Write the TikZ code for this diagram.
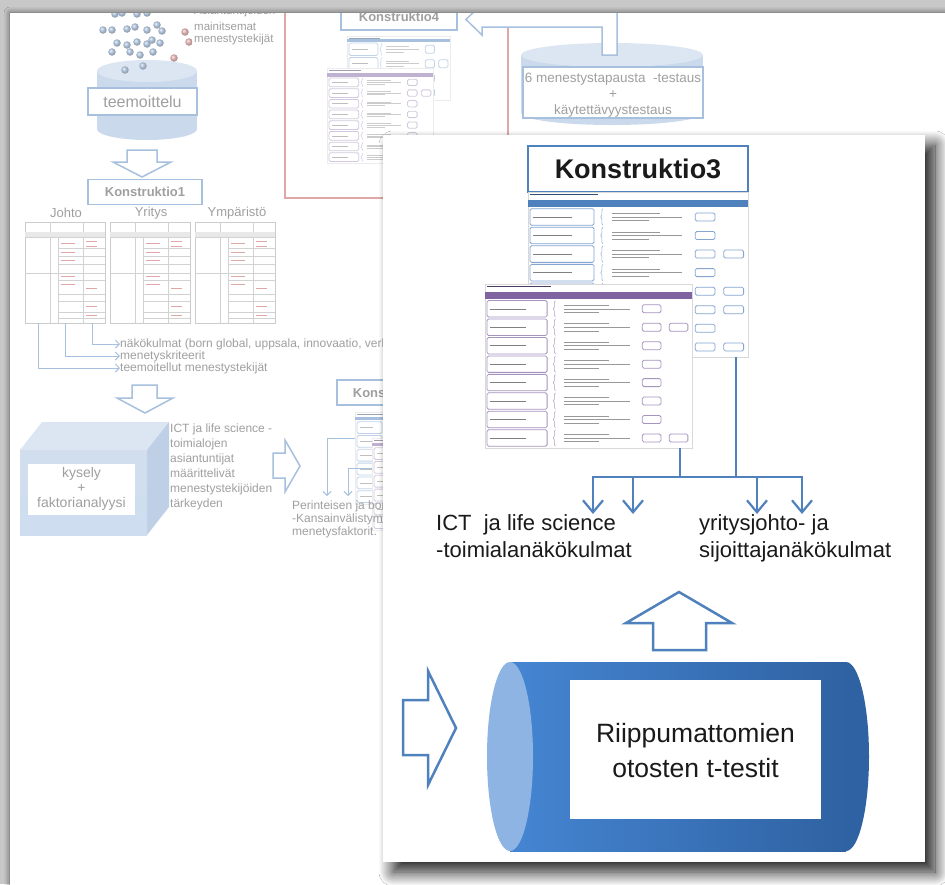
\documentclass[tikz,border=0pt]{standalone}
\usepackage{fontspec}
\setmainfont{Liberation Sans}
\usetikzlibrary{arrows.meta,shadows.blur,decorations.pathreplacing}

\definecolor{framegray}{HTML}{C8C8C8}
\definecolor{bblue}{HTML}{4F81BD}
\definecolor{cylbody}{HTML}{95B3D7}
\definecolor{cyltop}{HTML}{B9CDE5}
\definecolor{cubeside}{HTML}{7FA2CE}
\definecolor{purp}{HTML}{8064A2}
\definecolor{redline}{HTML}{C0504D}
\definecolor{inkgray}{HTML}{404040}
\definecolor{cylmid}{HTML}{4585D2}
\definecolor{cyldark}{HTML}{2F62A2}
\definecolor{cylcap}{HTML}{8DB4E3}
\definecolor{ink}{HTML}{1A1A1A}

% criteria sheet: #1 name, #2,#3 top-left corner, #4 width, #5 height,
% #6 colour, #7 number of rows, #8 rows that carry a second value box
\newcommand{\critsheet}[8]{%
  \node[sheet, anchor=north west, minimum width=#4pt, minimum height=#5pt] (#1) at (#2,#3) {};
  \begin{scope}[shift={(#2,#3)}]
    \draw[#6!60!black, line width=0.7pt] (2,2.5) -- ({0.32*#4},2.5);
    \fill[#6] (0,{0.05*#5}) rectangle (#4,{0.09*#5});
    \pgfmathsetmacro\rowh{0.9*#5/#7}
    \pgfmathsetmacro\bh{min(4,0.3*\rowh)}
    \foreach \r in {1,...,#7} {
      \pgfmathsetmacro\ya{0.095*#5+(\r-1)*\rowh+1}
      \pgfmathsetmacro\yb{\ya+\rowh-2}
      \pgfmathsetmacro\ym{(\ya+\yb)/2}
      \draw[#6!70, line width=0.8pt, rounded corners=1.5pt] (2,\ya) rectangle ({0.3*#4},\yb);
      \draw[gray, line width=0.5pt] (5,\ym) -- ({0.2*#4},\ym);
      \draw[#6!60, line width=0.6pt, decorate, decoration={brace, amplitude=2pt}]
        ({0.34*#4},\yb) -- ({0.34*#4},\ya);
      \draw[gray!80, line width=0.5pt]
        ({0.38*#4},{\ya+0.25*\rowh}) -- ({0.6*#4},{\ya+0.25*\rowh})
        ({0.38*#4},\ym) -- ({0.7*#4},\ym)
        ({0.38*#4},{\yb-0.25*\rowh}) -- ({0.55*#4},{\yb-0.25*\rowh});
      \draw[#6!70, line width=0.8pt, rounded corners=1.5pt]
        ({0.76*#4},\ym-\bh) rectangle ({0.85*#4},\ym+\bh);
    }
    \foreach \r in {#8} {
      \pgfmathsetmacro\ym{0.095*#5+(\r-0.5)*\rowh}
      \draw[#6!70, line width=0.8pt, rounded corners=1.5pt]
        ({0.89*#4},\ym-\bh) rectangle ({0.98*#4},\ym+\bh);
    }
  \end{scope}
}

\begin{document}
\begin{tikzpicture}[x=1pt, y=-1pt,
  smalltxt/.style={font=\fontsize{12}{15}\selectfont, text=inkgray, inner sep=0pt},
  boxtitle/.style={draw=bblue, line width=1.2pt, fill=white,
    font=\bfseries\fontsize{13}{15}\selectfont, text=inkgray, inner sep=0pt},
  blockarrow/.style={draw=bblue, line width=1.5pt, fill=white, line join=miter},
  thinarrow/.style={draw=bblue, line width=1pt, -{Straight Barb[length=4pt,width=8pt]}},
  sheet/.style={fill=white, draw=gray!30, line width=0.3pt, inner sep=0pt},
  treeline/.style={draw=bblue, line width=2.2pt},
  treearrow/.style={treeline, -{Straight Barb[length=12pt,width=20pt,line width=2.2pt]}},
  bigtxt/.style={font=\fontsize{22}{27}\selectfont, text=ink, inner sep=0pt, align=left},
  pearl/.style={circle, inner sep=0pt, minimum size=7.5pt, ball color=#1},
  gridline/.style={draw=gray!70, line width=0.6pt},
]
\useasboundingbox (0,0) rectangle (945,884);

% ---------- frame and back page ----------
\fill[framegray] (0,0) rectangle (945,884);
\fill[white, blur shadow={shadow xshift=0pt, shadow yshift=0pt, shadow blur radius=6pt, shadow opacity=60}]
  (10,13) rectangle (965,905);

\begin{scope}
\clip (10,13) rectangle (945,884);

% red frame lines
\draw[redline, line width=1.2pt] (285,0) -- (285,198) -- (383,198);
\draw[redline, line width=1.2pt] (508,0) -- (508,135);

% scattered success factors
\foreach \p [count=\i] in {(115,14),(122,13),(137,14),(147,13),
    (103,30),(112,30),(127,29),(135,27),(147,30),(157,25),(162,31),
    (117,43),(127,45),(137,42),(147,44),(152,40),(160,43),
    (112,52),(130,52),(140,55),(153,52)}
  \node[pearl=bblue] (dot\i) at \p {};
\node[pearl=redline] (rdot1) at (185,32) {};
\node[pearl=redline] (rdot2) at (189,42) {};
\node[smalltxt, anchor=west, font=\fontsize{11.5}{14}\selectfont] (asi) at (194,12) {Asiantuntijoiden};
\node[smalltxt, anchor=west, font=\fontsize{11.5}{14}\selectfont] (mai) at (194,26) {mainitsemat};
\node[smalltxt, anchor=west, font=\fontsize{11.5}{14}\selectfont] (men) at (194,40) {menestystekijät};

% theming cylinder
\fill[cylbody] (147,129) ellipse[x radius=50, y radius=11];
\fill[cylbody] (97,71) rectangle (197,129);
\fill[cyltop] (147,71) ellipse[x radius=50, y radius=11];
\node[pearl=bblue] (dot22) at (125,70) {};
\node[pearl=bblue] (dot23) at (143,66) {};
\node[pearl=redline] (rdot3) at (174,58) {};
\node[draw=bblue, line width=1.2pt, fill=white, minimum width=109pt, minimum height=27pt,
  inner sep=0pt, font=\fontsize{16}{18}\selectfont, text=inkgray] (teem) at (142.5,101.5) {teemoittelu};

% arrow to construct 1
\draw[blockarrow] (127,150) -- (157,150) -- (157,162) -- (171,162) -- (142,177)
  -- (113,162) -- (127,162) -- cycle;
\node[boxtitle, minimum width=114pt, minimum height=25pt] (k1) at (145,192) {Konstruktio1};

\node[smalltxt, font=\fontsize{13}{15}\selectfont] (johto) at (66,213) {Johto};
\node[smalltxt, font=\fontsize{13}{15}\selectfont] (yritys) at (151,213) {Yritys};
\node[smalltxt, font=\fontsize{13}{15}\selectfont] (ymp) at (237,213) {Ympäristö};

% the three theme tables
\foreach \x [count=\k] in {25,110,195} {
  \node[draw=gray!80, line width=0.8pt, fill=white, anchor=north west, inner sep=0pt,
    minimum width=80pt, minimum height=101pt] (tab\k) at (\x,222) {};
  \draw[gridline] (\x+25,222) -- (\x+25,323) (\x+33,232) -- (\x+33,323)
                  (\x+58,222) -- (\x+58,323);
  \draw[gridline] (\x,232) -- (\x+80,232) (\x,237) -- (\x+80,237) (\x,273) -- (\x+80,273);
  \fill[gray!35] (\x,232) rectangle (\x+80,237);
  \foreach \yy in {248,256,264,280,294,301,312,318}
    \draw[gridline, line width=0.4pt] (\x+33,\yy) -- (\x+80,\yy);
  \foreach \yy in {243,252,260,276,284}
    \draw[redline, line width=0.5pt] (\x+36,\yy) -- (\x+50,\yy);
  \foreach \yy in {241,246,288,306,315}
    \draw[redline, line width=0.5pt] (\x+61,\yy) -- (\x+72,\yy);
}

% what the tables yield
\node[smalltxt, anchor=west] (nako) at (120,344) {näkökulmat (born global, uppsala, innovaatio, verkosto)};
\node[smalltxt, anchor=west] (krit) at (120,356) {menetyskriteerit};
\node[smalltxt, anchor=west] (teemt) at (120,368) {teemoitellut menestystekijät};
\coordinate (s1) at (38,323);
\coordinate (s2) at (65,323);
\coordinate (s3) at (92,323);
\draw[thinarrow] (s1) |- (teemt.west);
\draw[thinarrow] (s2) |- (krit.west);
\draw[thinarrow] (s3) |- (nako.west);

% arrow to the survey
\draw[blockarrow] (132,385) -- (157,385) -- (157,398) -- (173,398) -- (145,413)
  -- (117,398) -- (132,398) -- cycle;

% survey cube
\fill[cyltop] (20,450) -- (42,422) -- (169,422) -- (147,450) -- cycle;
\fill[cubeside] (147,450) -- (169,422) -- (169,507) -- (147,535) -- cycle;
\shade[top color=cylbody!85, bottom color=cylbody!105!black] (20,450) rectangle (147,535);
\node[fill=white, minimum width=107pt, minimum height=51pt, inner sep=0pt] (survbox) at (81.5,489.5) {};
\node[align=center, font=\fontsize{14}{15}\selectfont, text=inkgray, inner sep=0pt] (surv) at (81.5,489)
  {kysely\\+\\faktorianalyysi};
\node[smalltxt, anchor=north west, align=left] (expert) at (170,424)
  {ICT ja life science -\\toimialojen\\asiantuntijat\\määrittelivät\\menestystekijöiden\\tärkeyden};

% arrow to construct 2
\draw[blockarrow] (273,453) -- (285,453) -- (285,440) -- (300,466) -- (285,492)
  -- (285,478) -- (273,478) -- cycle;
\node[boxtitle, minimum width=112pt, minimum height=25pt] (k2) at (393,392.5) {Konstruktio2};
\critsheet{k2s}{355}{412}{90}{92}{bblue}{6}{1}
\critsheet{k2p}{372}{438}{90}{92}{purp}{6}{1}
\coordinate (q1) at (327,438);
\coordinate (q1e) at (327,496);
\coordinate (q2) at (348,468);
\coordinate (q2e) at (348,496);
\draw[thinarrow] (k2s.west |- q1) -- (q1) -- (q1e);
\draw[thinarrow] (k2p.west |- q2) -- (q2) -- (q2e);
\node[smalltxt, anchor=north west, align=left, font=\fontsize{12}{13}\selectfont] (peri) at (292,501)
  {Perinteisen ja born global\\-Kansainvälistymisen\\menetysfaktorit.};

% construct 4 and its sheets
\node[boxtitle, minimum width=116pt, minimum height=26pt] (k4) at (399,17) {Konstruktio4};
\critsheet{k4b}{347}{36}{103}{64}{bblue}{4}{2}
\begin{scope}[blur shadow={shadow xshift=-2pt, shadow yshift=-5pt, shadow blur radius=6pt, shadow opacity=40}]
\critsheet{k4p}{327}{68}{106}{95}{purp}{8}{2,8}
\end{scope}

% case test cylinder
\fill[cylbody] (612,113) ellipse[x radius=91, y radius=12];
\fill[cylbody] (521,55) rectangle (703,113);
\fill[cyltop] (612,55) ellipse[x radius=91, y radius=12];
\node[draw=bblue, line width=1.2pt, fill=white, minimum width=180pt, minimum height=51pt,
  inner sep=0pt] (casebox) at (613,92.5) {};
\node[align=center, font=\fontsize{13.5}{16}\selectfont, text=inkgray, inner sep=0pt] (case) at (613,95)
  {6 menestystapausta\ \ -testaus\\+\\käytettävyystestaus};
% bent arrow back to construct 4
\draw[blockarrow] (602,55) -- (602,27) -- (482,27) -- (482,35) -- (466,19.5) -- (482,4)
  -- (482,12) -- (617,12) -- (617,55) -- cycle;
\end{scope}

% everything on the back page is shown faded
\fill[white, opacity=0.5] (10,13) rectangle (945,884);

% ---------- front panel ----------
\fill[white, blur shadow={shadow xshift=10pt, shadow yshift=-10pt, shadow blur radius=14pt,
  shadow opacity=90, shadow blur steps=20}]
  (383,135) rectangle (925,862);

\node[draw=bblue, line width=2pt, fill=white, minimum width=220pt, minimum height=46pt, inner sep=0pt,
  font=\bfseries\fontsize{27}{32}\selectfont, text=ink] (k3) at (638,169) {Konstruktio3};
\critsheet{tabB}{528}{192}{220}{165}{bblue}{8}{3,5,6,8}
\begin{scope}[blur shadow={shadow xshift=-4pt, shadow yshift=-8pt, shadow blur radius=10pt, shadow opacity=50}]
\critsheet{tabP}{485}{284}{207}{164}{purp}{8}{2,8}
\end{scope}

% viewpoints
\coordinate (j1) at (680,477);
\coordinate (j2) at (736,477);
\coordinate (a1) at (593,514);
\coordinate (a2) at (633,514);
\coordinate (a3) at (757,514);
\coordinate (a4) at (802,514);
\draw[treeline] (tabP.south -| j1) -- (j1);
\draw[treeline] (tabB.south -| j2) -- (j2);
\draw[treeline] (j1) -- (j2);
\draw[treearrow] (j1) -| (a1);
\draw[treearrow] (j1) -| (a2);
\draw[treearrow] (j2) -| (a3);
\draw[treearrow] (j2) -| (a4);
\node[bigtxt, anchor=north west] (ict) at (436,514) {ICT\ \ ja life science\\-toimialanäkökulmat};
\node[bigtxt, anchor=north west] (yrit) at (699,514) {yritysjohto- ja\\sijoittajanäkökulmat};

% t-test cylinder
\draw[blockarrow, line width=2.5pt] (653,650) -- (653,623) -- (626,623) -- (679,592) -- (732,623)
  -- (706,623) -- (706,650) -- cycle;
\fill[cyldark] (846,756.5) ellipse[x radius=23, y radius=94.5];
\shade[left color=cylmid, right color=cyldark] (510,662) rectangle (846,851);
\fill[cylcap] (510,756.5) ellipse[x radius=23, y radius=94.5];
\node[fill=white, minimum width=251pt, minimum height=139pt, inner sep=0pt] (tbox) at (695.5,749.5) {};
\node[align=center, font=\fontsize{26.5}{35}\selectfont, text=ink, inner sep=0pt] (ttest) at (695.5,751)
  {Riippumattomien\\otosten t-testit};
\draw[blockarrow, line width=2.5pt] (403,700) -- (428,700) -- (428,671) -- (456,728) -- (428,785)
  -- (428,755) -- (403,755) -- cycle;
\end{tikzpicture}
\end{document}
